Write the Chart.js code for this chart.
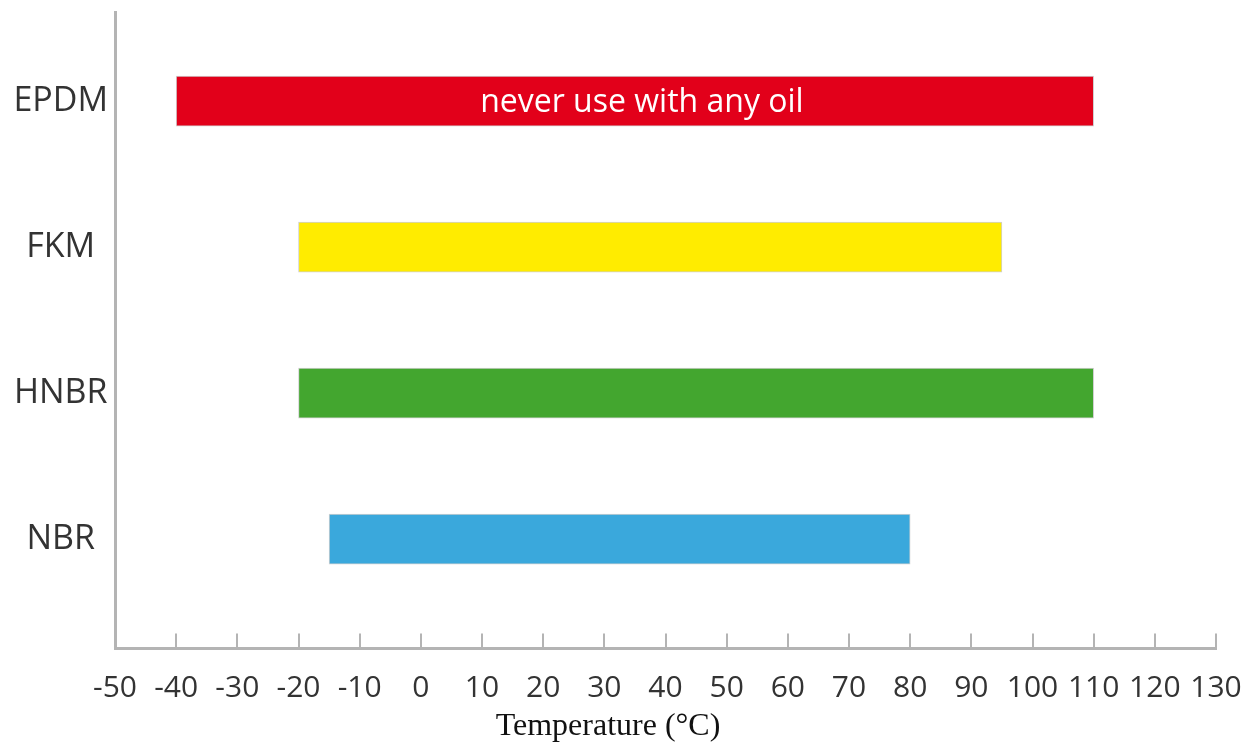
<!DOCTYPE html>
<html>
<head>
<meta charset="utf-8">
<script src="https://cdn.jsdelivr.net/npm/chart.js@4"></script>
<style>
  html, body { margin: 0; padding: 0; background: #fff; }
  #wrap { width: 1254px; height: 747px; }
</style>
</head>
<body>
<div id="wrap"><canvas id="tempChart"></canvas></div>
<script>
// materials, top to bottom
const materials = ["EPDM", "FKM", "HNBR", "NBR"];
// temperature ranges (°C)
const lowTemps = [-40, -20, -20, -15];
const highTemps = [110, 95, 110, 80];
const barColors = ["#e2001a", "#ffec00", "#43a62f", "#3aa8dc"];
const barNotes = ["never use with any oil", "", "", ""];
// x axis ticks
const tempMin = -50;
const tempMax = 130;
const tempStep = 10;

const axisGrey = "#b4b4b4";

// small tick marks pointing up from the x axis
const innerTicks = {
  id: "innerTicks",
  afterDraw(chart) {
    const xs = chart.scales.x;
    const ctx = chart.ctx;
    const bottom = chart.chartArea.bottom;
    ctx.save();
    ctx.strokeStyle = axisGrey;
    ctx.lineWidth = 2;
    xs.ticks.forEach((t) => {
      if (t.value === tempMin) return;
      const px = Math.round(xs.getPixelForValue(t.value));
      ctx.beginPath();
      ctx.moveTo(px, bottom);
      ctx.lineTo(px, bottom - 15);
      ctx.stroke();
    });
    ctx.restore();
  },
};

// text written inside a bar
const barText = {
  id: "barText",
  afterDatasetsDraw(chart) {
    const meta = chart.getDatasetMeta(0);
    const ctx = chart.ctx;
    ctx.save();
    ctx.fillStyle = "#ffffff";
    ctx.font = "32px 'Open Sans'";
    ctx.textAlign = "center";
    ctx.textBaseline = "middle";
    meta.data.forEach((bar, i) => {
      if (!barNotes[i]) return;
      ctx.fillText(barNotes[i], (bar.x + bar.base) / 2 + 7, bar.y + 2);
    });
    ctx.restore();
  },
};

const ctx = document.getElementById("tempChart").getContext("2d");

new Chart(ctx, {
  type: "bar",
  data: {
    datasets: [
      {
        data: materials.map((m, i) => ({ x: [lowTemps[i], highTemps[i]], y: i })),
        backgroundColor: barColors,
        borderColor: "rgba(120,120,120,0.35)",
        borderWidth: 1,
        borderSkipped: false,
        barThickness: 50,
      },
    ],
  },
  options: {
    indexAxis: "y",
    responsive: true,
    maintainAspectRatio: false,
    animation: false,
    layout: {
      padding: { top: 12, right: 38, left: 0, bottom: 0 },
    },
    scales: {
      x: {
        type: "linear",
        min: tempMin,
        max: tempMax,
        grid: { display: false, drawTicks: false },
        border: { display: true, color: axisGrey, width: 3 },
        ticks: {
          stepSize: tempStep,
          autoSkip: false,
          maxRotation: 0,
          padding: 22,
          color: "#333",
          font: { family: "'Open Sans'", size: 30 },
        },
        afterFit(scale) {
          scale.height = 59;
          scale.paddingLeft = 0;
          scale.paddingRight = 0;
        },
      },
      y: {
        type: "linear",
        reverse: true,
        offset: false,
        min: -0.61,
        max: 3.75,
        grid: { display: false, drawTicks: false },
        border: { display: true, color: axisGrey, width: 3 },
        afterBuildTicks(scale) {
          scale.ticks = materials.map((m, i) => ({ value: i }));
        },
        ticks: {
          callback: (v) => materials[v],
          crossAlign: "center",
          padding: 7,
          color: "#333",
          font: { family: "'Open Sans'", size: 34 },
        },
        afterFit(scale) {
          scale.width = 115;
          scale.paddingTop = 0;
          scale.paddingBottom = 0;
        },
      },
    },
    plugins: {
      legend: { display: false },
      tooltip: { enabled: false },
      title: {
        display: true,
        position: "bottom",
        text: "Temperature (°C)",
        color: "#111",
        font: { family: "'Liberation Serif'", size: 32, weight: "normal" },
        padding: { top: 0, bottom: 1 },
      },
    },
  },
  plugins: [innerTicks, barText],
});
</script>
</body>
</html>
